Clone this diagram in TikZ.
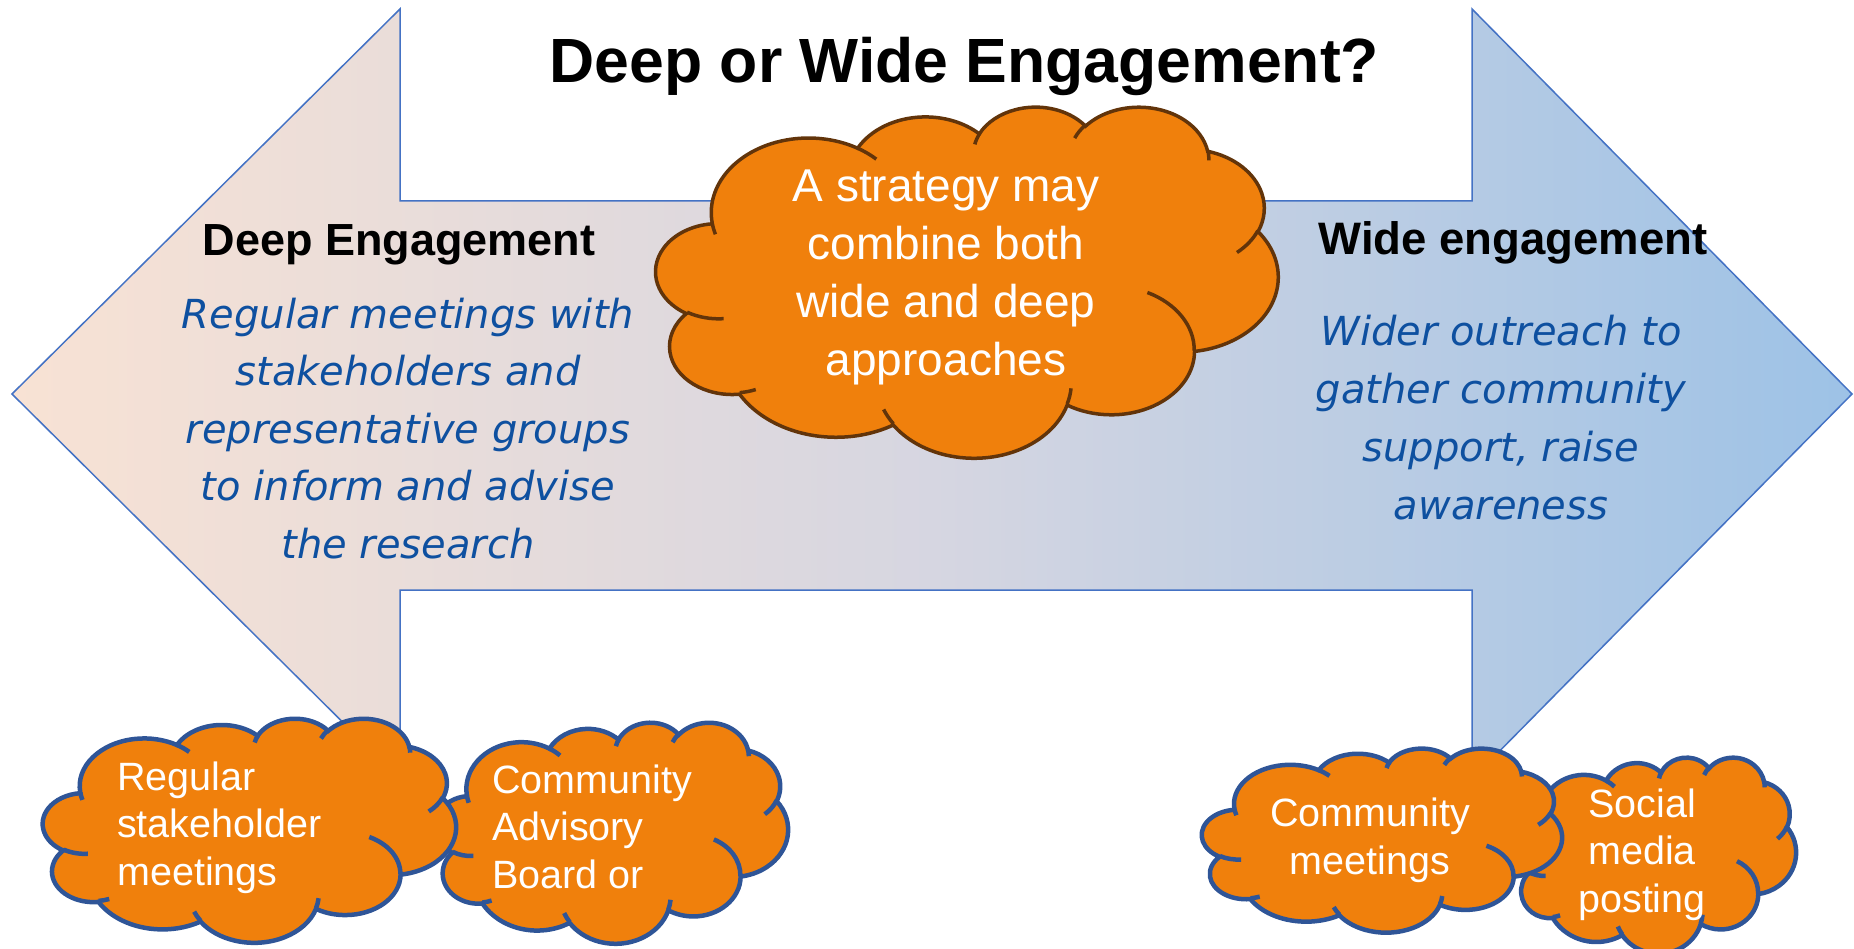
\documentclass[tikz,border=0pt]{standalone}
\usepackage{fontspec}
\setmainfont{Liberation Sans}
\newfontfamily\dejavu{DejaVu Sans}
\usepackage{tikz}

\definecolor{peach}{RGB}{248,226,212}
\definecolor{midgrey}{RGB}{214,214,225}
\definecolor{skyblue}{RGB}{157,194,230}
\definecolor{arrowline}{RGB}{68,114,196}
\definecolor{cloudfill}{RGB}{240,128,12}
\definecolor{cloudbrown}{RGB}{98,52,10}
\definecolor{cloudblue}{RGB}{47,85,151}
\definecolor{textblue}{RGB}{14,80,160}

% one puff of the cloud: wR, hR, start angle, sweep
\newcommand\cldarc[4]{arc[start angle={atan2((#1)*sin(#3),(#2)*cos(#3))},
  delta angle={mod(atan2((#1)*sin((#3)+(#4)),(#2)*cos((#3)+(#4)))-atan2((#1)*sin(#3),(#2)*cos(#3))+720,360)},
  x radius={(#1)/432}, y radius={(#2)/432}]}

% cloud in the box x, y, width, height
\newcommand\cloudat[5]{%
  \pgfmathsetmacro\cldw{#3/100}%
  \pgfmathsetmacro\cldh{-#4/100}%
  \begin{scope}[shift={(#1,#2)},x=\cldw pt,y=\cldh pt]
    \draw[fill=cloudfill,#5] (9.0278,33.2639)
      \cldarc{6753}{9190}{-190.48748}{123.78053}
      \cldarc{5333}{7267}{-144.10238}{89.94523}
      \cldarc{4365}{5945}{-145.80792}{99.72302}
      \cldarc{4857}{6595}{-130.98607}{117.24173}
      \cldarc{5333}{7273}{-78.70888}{109.02692}
      \cldarc{6775}{9220}{-46.26725}{130.269}
      \cldarc{5785}{7867}{0.62502}{114.03333}
      \cldarc{6752}{9215}{22.4516}{115.17255}
      \cldarc{7720}{10543}{66.24263}{75.71102}
      \cldarc{4360}{5918}{-274.94208}{146.73557}
      \cldarc{4345}{5945}{-246.8285}{152.51885} -- cycle;
    \draw[#5]
      (10.8634,60.5949) \cldarc{4345}{5945}{86.742}{26.4295}
      (16.037,80.7847) \cldarc{4360}{5918}{73.61047}{11.44747}
      (38.1435,90.4861) \cldarc{6752}{9215}{137.62415}{14.0811}
      (66.7292,80.4421) \cldarc{6752}{9215}{6.45327}{15.99835}
      (79.0023,53.1343) \cldarc{5785}{7867}{-70.29235}{70.91737}
      (96.7546,35.5417) \cldarc{5333}{7273}{30.31803}{27.7515}
      (88.713,12.5602) \cldarc{4857}{6595}{-13.74433}{14.8589}
      (67.3102,9.1481) \cldarc{4857}{6595}{-149.18145}{18.19537}
      (51.2523,10.9259) \cldarc{4365}{5945}{-163.49427}{17.68635}
      (32.4074,12.0185) \cldarc{6753}{9190}{-66.70695}{12.31935}
      (9.5532,36.5486) \cldarc{6753}{9190}{157.65435}{11.85817};
  \end{scope}}

\begin{document}
\begin{tikzpicture}[x=1pt,y=-1pt,
    heading/.style={font=\bfseries\fontsize{45}{54}\selectfont,inner sep=0pt,anchor=base},
    bluetext/.style={font=\dejavu\itshape\fontsize{40}{57.5}\selectfont,text=textblue,align=center,inner sep=0pt,anchor=base},
    cloudtext/.style={font=\fontsize{39.5}{47.5}\selectfont,text=white,inner sep=0pt},
    blueline/.style={draw=cloudblue,line width=4.5pt}]
  \useasboundingbox (0,0) rectangle (1854,949);
  % the double arrow
  \draw[draw=arrowline,line width=1.5pt,left color=peach,right color=skyblue,middle color=midgrey]
    (12,394) -- (400,9) -- (400,201) -- (1472,201) -- (1472,9) -- (1852,394)
    -- (1472,779) -- (1472,590) -- (400,590) -- (400,779) -- cycle;
  \node[font=\bfseries\fontsize{62.5}{70}\selectfont,inner sep=0pt,anchor=base] (title) at (964.5,83) {Deep or Wide Engagement?};
  \node[heading] (deep) at (399,256) {Deep Engagement};
  \node[heading,font=\bfseries\fontsize{45.5}{54}\selectfont] (wide) at (1513,255) {Wide engagement};
  % multi-line nodes sit on their last line
  \node[bluetext] (deeptext) at (408,558) {Regular meetings with\\stakeholders and\\representative groups\\to inform and advise\\the research};
  \node[bluetext,font=\dejavu\itshape\fontsize{40}{58}\selectfont] (widetext) at (1501,519) {Wider outreach to\\gather community\\support, raise\\awareness};
  % middle cloud
  \cloudat{656}{106}{622}{351}{draw=cloudbrown,line width=3.5pt}
  \node[cloudtext,font=\fontsize{46}{57.7}\selectfont,align=center,anchor=base] (both) at (946,375) {A strategy may\\combine both\\wide and deep\\approaches};
  % clouds under the arrow heads
  \cloudat{435}{722}{353}{221}{blueline}
  \cloudat{43}{718}{413}{224}{blueline}
  \node[cloudtext,align=left,anchor=base west] (regular) at (117,885) {Regular\\stakeholder\\meetings};
  \node[cloudtext,align=left,anchor=base west] (board) at (492,888) {Community\\Advisory\\Board or};
  \cloudat{1515}{757}{281}{196}{blueline}
  \cloudat{1202}{748}{360}{184}{blueline}
  \node[cloudtext,align=center,anchor=base] (social) at (1642,912) {Social\\media\\posting};
  \node[cloudtext,align=center,anchor=base] (community) at (1370,874) {Community\\meetings};
\end{tikzpicture}
\end{document}
